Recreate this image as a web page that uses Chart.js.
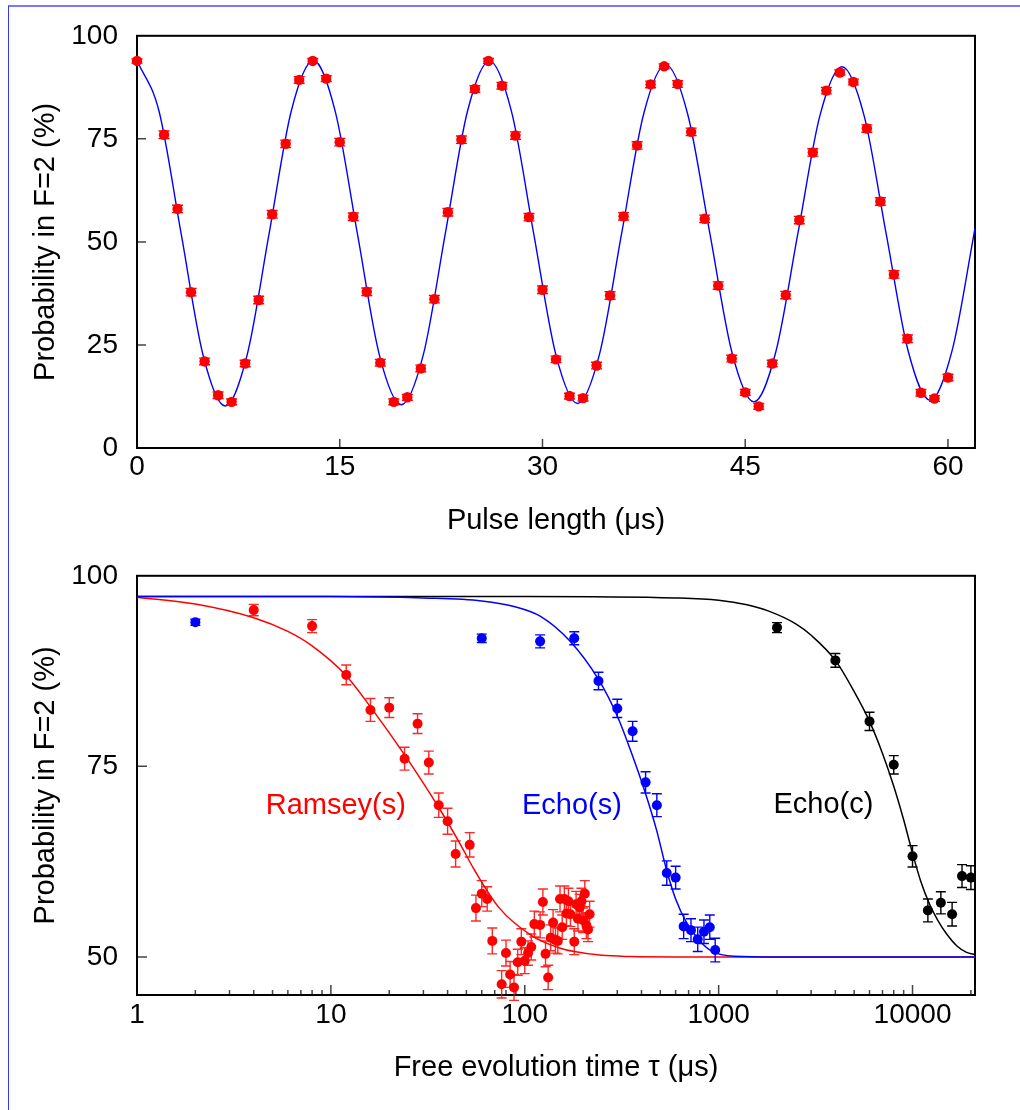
<!DOCTYPE html>
<html><head><meta charset="utf-8">
<script src="https://cdn.jsdelivr.net/npm/chart.js@4.4.1/dist/chart.umd.min.js"></script>
<style>
html,body{margin:0;padding:0;background:#fff;width:1020px;height:1110px;overflow:hidden;}
#frame{position:absolute;left:8px;top:5px;width:1100px;height:1200px;border-left:1px solid #3535f5;border-top:2px solid #7a7af2;}
#c1{position:absolute;left:0;top:0;}
#c2{position:absolute;left:0;top:540px;}
</style></head><body>
<div id="frame"></div>
<canvas id="c1" width="1020" height="545"></canvas>
<canvas id="c2" width="1020" height="570"></canvas>
<script>
// ---------- Top panel: Rabi oscillation ----------
const pulseLength = [0,2,3,4,5,6,7,8,9,10,11,12,13,14,15,16,17,18,19,20,21,22,23,24,25,26,27,28,29,30,31,32,33,34,35,36,37,38,39,40,41,42,43,44,45,46,47,48,49,50,51,52,53,54,55,56,57,58,59,60];
const probRabi = [93.9,76.0,58.0,37.8,21.0,12.8,11.2,20.5,35.9,56.7,73.8,89.3,93.9,89.6,74.2,56.1,37.9,20.7,11.2,12.3,19.3,36.1,57.2,74.8,87.1,93.9,87.9,75.8,56.0,38.4,21.5,12.6,12.1,20.0,37.0,56.2,73.4,88.2,92.6,88.3,76.7,55.6,39.4,21.7,13.5,10.1,20.5,37.1,55.3,71.7,86.7,91.1,88.8,77.5,59.8,42.1,26.5,13.4,12.0,17.1];
const errRabi = [0.5,0.9,0.9,0.9,0.8,0.8,0.7,0.8,0.9,0.9,0.9,0.8,0.6,0.7,0.9,0.9,0.9,0.8,0.7,0.7,0.8,0.9,0.9,0.9,0.8,0.6,0.8,0.9,0.9,0.9,0.8,0.7,0.7,0.8,0.9,0.9,0.9,0.8,0.6,0.8,0.9,0.9,0.9,0.8,0.7,0.7,0.8,0.9,0.9,0.9,0.8,0.6,0.7,0.9,0.9,0.9,0.9,0.8,0.7,0.8];
const fitPulse = [0,1.63,3.26,4.89,6.52,8.15,9.78,11.41,13.04,14.67,16.3,17.93,19.56,21.19,22.82,24.45,26.08,27.71,29.34,30.97,32.6,34.23,35.86,37.49,39.12,40.75,42.38,44.01,45.64,47.27,48.9,50.53,52.16,53.79,55.42,57.05,58.68,60.31,62];
const fitRabi = [94.0,81.7,52.1,22.5,10.2,22.6,52.1,81.7,94.0,81.6,52.1,22.6,10.5,22.7,52.2,81.7,93.9,81.6,52.2,22.9,10.8,22.9,52.1,81.1,93.0,80.9,52.1,23.3,11.2,23.4,52.1,80.7,92.5,80.7,52.1,23.6,11.6,23.7,53.3];
const topXTicks = [0,15,30,45,60];
const topYTicks = [0,25,50,75,100];

// ---------- Bottom panel: coherence ----------
const ramseyTau = [4,8,12,16,20,24,28,32,36,40,44,52,56,60,64,68,76,80,84,88,92,96,100,104,108,112,120,124,128,132,136,140,144,148,152,156,160,164,168,172,180,184,188,192,196,200,204,208,212,216];
const ramseyProb = [95.5,93.4,87.0,82.4,82.7,76.0,80.6,75.5,69.9,67.8,63.5,64.7,56.4,58.3,57.6,52.1,46.4,50.5,47.7,46.0,49.3,52.0,49.5,50.5,51.3,54.3,54.2,57.2,50.4,47.3,52.5,54.5,52.2,52.1,57.6,53.9,57.6,55.7,57.3,55.6,52.0,56.9,55.0,56.5,57.3,54.8,58.3,54.1,53.6,55.6];
const ramseyErr = [0.75,0.85,1.3,1.5,1.3,1.5,1.3,1.5,1.6,1.7,1.7,1.6,1.7,1.7,1.6,1.7,1.8,1.7,1.7,1.7,1.7,1.7,1.7,1.6,1.7,1.7,1.7,1.7,1.7,1.6,1.7,1.7,1.7,1.7,1.7,1.6,1.7,1.6,1.7,1.6,1.7,1.7,1.6,1.7,1.7,1.6,1.7,1.7,1.6,1.7];
const echoSTau = [2,60,120,180,240,300,360,420,480,540,600,660,720,780,840,900,960];
const echoSProb = [93.9,91.8,91.4,91.8,86.2,82.6,79.6,72.9,69.9,61.0,60.4,54.0,53.5,52.3,53.3,53.9,50.9];
const echoSErr = [0.4,0.55,0.85,0.85,1.15,1.2,1.3,1.4,1.5,1.6,1.5,1.6,1.5,1.6,1.55,1.6,1.55];
const echoCTau = [2000,4000,6000,8000,10000,12000,14000,16000,18000,20000];
const echoCProb = [93.2,88.9,80.9,75.2,63.2,56.1,57.1,55.6,60.6,60.4];
const echoCErr = [0.65,0.9,1.2,1.2,1.4,1.5,1.45,1.55,1.5,1.55];

const ramseyFitTau = [1,2,4,6,8,12,16,24,36,46,55,74,110,150,180,250,350,600,1000,21000];
const ramseyFitProb = [97.2,96.3,94.5,92.7,90.8,86.9,82.8,76.5,69.6,65.0,61.4,56.4,52.7,51.2,50.7,50.2,50.05,50.0,50.0,50.0];
const echoSFitTau = [1,10,30,60,90,120,170,240,300,350,420,480,540,600,680,800,930,1200,2000,21000];
const echoSFitProb = [97.3,97.3,97.1,96.7,95.9,94.7,91.5,86.4,81.6,77.2,71.4,66.5,61.3,57.6,54.6,52.1,50.7,50.1,50.0,50.0];
const echoCFitTau = [1,100,600,1000,1400,1800,2500,3000,4000,5000,6000,7000,8000,9000,10000,11000,12250,13500,15000,17000,19000,21000];
const echoCFitProb = [97.3,97.3,97.1,96.8,96.2,95.4,93.7,92.2,88.9,84.8,80.9,76.7,72.4,68.0,63.6,60.0,56.9,54.8,53.0,51.4,50.6,50.3];
const botXTicks = [1,10,100,1000,10000];
const botYTicks = [50,75,100];
const curveNames = ['Ramsey(s)','Echo(s)','Echo(c)'];

// ---------- helpers & plugins ----------
const FONT = '"Liberation Sans", Arial, Helvetica, sans-serif';
Chart.defaults.font.family = FONT;
Chart.defaults.color = '#000';
function pairs(xs, ys){ return xs.map((x,i)=>({x:x, y:ys[i]})); }

const errorBars = {
  id:'errorBars',
  beforeDatasetDraw(chart, args){
    const ds = chart.data.datasets[args.index];
    if(!ds.errors) return;
    const ctx = chart.ctx, ys = chart.scales.y;
    ctx.save();
    ctx.strokeStyle = ds.errorColor; ctx.lineWidth = ds.errorWidth;
    ctx.beginPath();
    args.meta.data.forEach((el,i)=>{
      const v = ds.data[i].y, e = ds.errors[i], c = ds.capHalf;
      const x = el.x, y1 = ys.getPixelForValue(v-e), y2 = ys.getPixelForValue(v+e);
      ctx.moveTo(x,y1); ctx.lineTo(x,y2);
      ctx.moveTo(x-c,y1); ctx.lineTo(x+c,y1);
      ctx.moveTo(x-c,y2); ctx.lineTo(x+c,y2);
    });
    ctx.stroke(); ctx.restore();
  }
};

const frameTicks = {
  id:'frameTicks',
  beforeDatasetsDraw(chart, args, o){
    const {ctx, chartArea:a, scales:{x,y}} = chart;
    ctx.save();
    ctx.strokeStyle = '#444'; ctx.lineWidth = 1.5;
    ctx.beginPath();
    (o.xMajor||[]).forEach(v=>{const p=x.getPixelForValue(v); ctx.moveTo(p,a.bottom); ctx.lineTo(p,a.bottom-o.major);});
    (o.xMinor||[]).forEach(v=>{const p=x.getPixelForValue(v); ctx.moveTo(p,a.bottom); ctx.lineTo(p,a.bottom-o.minor);});
    (o.yMajor||[]).forEach(v=>{const p=y.getPixelForValue(v); ctx.moveTo(a.left,p); ctx.lineTo(a.left+o.major,p);});
    ctx.stroke();
    ctx.strokeStyle = '#000'; ctx.lineWidth = 2;
    ctx.strokeRect(a.left, a.top, a.right-a.left, a.bottom-a.top);
    ctx.restore();
  }
};

const curveText = {
  id:'curveText',
  afterDatasetsDraw(chart, args, o){
    if(!o.items) return;
    const {ctx, scales:{x,y}} = chart;
    ctx.save();
    ctx.font = o.font; ctx.textAlign = 'center'; ctx.textBaseline = 'alphabetic';
    o.items.forEach(it=>{ ctx.fillStyle = it.color; ctx.fillText(it.text, x.getPixelForValue(it.x), y.getPixelForValue(it.y)); });
    ctx.restore();
  }
};

function axisCommon(){
  return { grid:{display:false, drawTicks:false}, border:{display:false} };
}

// ---------- Top chart ----------
new Chart(document.getElementById('c1'), {
  type:'scatter',
  data:{datasets:[
    {label:'data', data:pairs(pulseLength, probRabi), errors:errRabi, errorColor:'#ff0000', errorWidth:1.4, capHalf:5.5,
     pointRadius:5.2, pointBackgroundColor:'#ff0000', pointBorderWidth:0, order:1, clip:false},
    {label:'fit', data:pairs(fitPulse, fitRabi), showLine:true, pointRadius:0, borderColor:'#0000ff', borderWidth:1.4,
     cubicInterpolationMode:'monotone', fill:false, order:2}
  ]},
  options:{
    responsive:false, animation:false, events:[], devicePixelRatio:1,
    layout:{padding:{left:0,right:45,top:34,bottom:0}},
    plugins:{legend:{display:false}, tooltip:{enabled:false},
      frameTicks:{xMajor:topXTicks.slice(1), yMajor:topYTicks.slice(1,-1), major:9, minor:5}},
    scales:{
      x:Object.assign(axisCommon(), {type:'linear', min:0, max:62,
        afterBuildTicks:s=>{s.ticks = topXTicks.map(v=>({value:v}));},
        afterFit:s=>{s.height = 97;},
        ticks:{font:{size:28}, padding:2, maxRotation:0, autoSkip:false, callback:v=>String(v)},
        title:{display:true, text:'Pulse length (μs)', font:{size:29}, padding:{top:0,bottom:7}}}),
      y:Object.assign(axisCommon(), {type:'linear', min:0, max:100,
        afterBuildTicks:s=>{s.ticks = topYTicks.map(v=>({value:v}));},
        afterFit:s=>{s.width = 137;},
        ticks:{font:{size:28}, padding:19, autoSkip:false, callback:v=>String(v)},
        title:{display:true, text:'Probability in F=2 (%)', font:{size:29}, padding:{top:29,bottom:0}}})
    }
  },
  plugins:[errorBars, frameTicks, curveText]
});

// ---------- Bottom chart ----------
const minorLog = [];
for (let d=1; d<=10000; d*=10) for (let m=2; m<=9; m++) if (d*m<=21000) minorLog.push(d*m);

new Chart(document.getElementById('c2'), {
  type:'scatter',
  data:{datasets:[
    {label:'Ramsey', data:pairs(ramseyTau, ramseyProb), errors:ramseyErr, errorColor:'rgba(255,0,0,0.85)', errorWidth:1.4, capHalf:5,
     pointRadius:5, pointBackgroundColor:'#ff0000', pointBorderWidth:0, order:1, clip:false},
    {label:'EchoS', data:pairs(echoSTau, echoSProb), errors:echoSErr, errorColor:'#0000ff', errorWidth:1.4, capHalf:5,
     pointRadius:5, pointBackgroundColor:'#0000ff', pointBorderWidth:0, order:1, clip:false},
    {label:'EchoC', data:pairs(echoCTau, echoCProb), errors:echoCErr, errorColor:'#000000', errorWidth:1.4, capHalf:5,
     pointRadius:5, pointBackgroundColor:'#000000', pointBorderWidth:0, order:1, clip:false},
    {label:'EchoC fit', data:pairs(echoCFitTau, echoCFitProb), showLine:true, pointRadius:0, borderColor:'#000000', borderWidth:1.5,
     cubicInterpolationMode:'monotone', fill:false, order:4},
    {label:'EchoS fit', data:pairs(echoSFitTau, echoSFitProb), showLine:true, pointRadius:0, borderColor:'#0000ff', borderWidth:1.5,
     cubicInterpolationMode:'monotone', fill:false, order:3},
    {label:'Ramsey fit', data:pairs(ramseyFitTau, ramseyFitProb), showLine:true, pointRadius:0, borderColor:'#ff0000', borderWidth:1.5,
     cubicInterpolationMode:'monotone', fill:false, order:5}
  ]},
  options:{
    responsive:false, animation:false, events:[], devicePixelRatio:1,
    layout:{padding:{left:0,right:45,top:29,bottom:0}},
    plugins:{legend:{display:false}, tooltip:{enabled:false},
      frameTicks:{xMajor:botXTicks.slice(1), xMinor:minorLog, yMajor:botYTicks.slice(0,-1), major:10, minor:5},
      curveText:{font:'29px '+FONT, items:[
        {text:curveNames[0], color:'#ff0000', x:10.6, y:68.7},
        {text:curveNames[1], color:'#0000ff', x:175, y:68.7},
        {text:curveNames[2], color:'#000000', x:3470, y:68.9}
      ]}},
    scales:{
      x:Object.assign(axisCommon(), {type:'logarithmic', min:1, max:21000,
        afterBuildTicks:s=>{s.ticks = botXTicks.map(v=>({value:v}));},
        afterFit:s=>{s.height = 115;},
        ticks:{font:{size:28}, padding:3, maxRotation:0, autoSkip:false, callback:v=>String(v)},
        title:{display:true, text:'Free evolution time τ (μs)', font:{size:29}, padding:{top:0,bottom:25}}}),
      y:Object.assign(axisCommon(), {type:'linear', min:45, max:100,
        afterBuildTicks:s=>{s.ticks = botYTicks.map(v=>({value:v}));},
        afterFit:s=>{s.width = 137;},
        ticks:{font:{size:28}, padding:19, autoSkip:false, callback:v=>String(v)},
        title:{display:true, text:'Probability in F=2 (%)', font:{size:29}, padding:{top:29,bottom:0}}})
    }
  },
  plugins:[errorBars, frameTicks, curveText]
});
</script></body></html>
